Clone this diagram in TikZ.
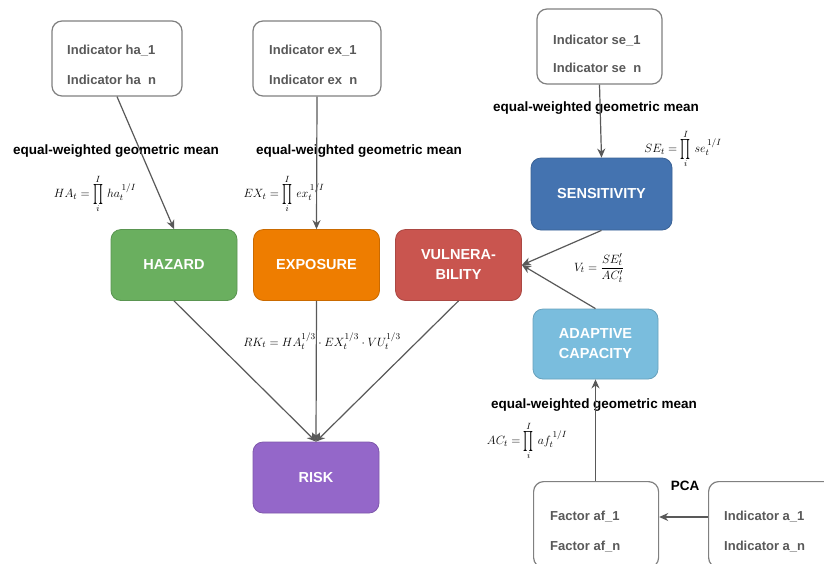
\documentclass[tikz,border=0pt]{standalone}
\usepackage{fontspec}
\setmainfont{Liberation Sans}
\usetikzlibrary{arrows.meta,calc}
\definecolor{linegray}{HTML}{595959}
\definecolor{boxgray}{HTML}{808080}
\definecolor{txtgray}{HTML}{595959}
\definecolor{hazfill}{HTML}{6AAF5F}
\definecolor{expfill}{HTML}{EE7D00}
\definecolor{vulfill}{HTML}{C9554F}
\definecolor{senfill}{HTML}{4473B0}
\definecolor{adafill}{HTML}{7ABDDD}
\definecolor{riskfill}{HTML}{9467C9}
% tall product sign with limits above and below
\newcommand{\gprod}[1]{\mathop{\vcenter{\hbox{\scalebox{1.05}[2.0]{$\prod$}}}}\limits_{i}^{I}\,#1}
\begin{document}
\begin{tikzpicture}[x=1pt,y=-1pt,
  inbox/.style={draw=boxgray,line width=1.2pt,rounded corners=10pt,fill=white},
  inner/.style={font=\fontsize{13}{15}\selectfont\bfseries,text=txtgray,anchor=west,inner sep=0pt},
  mainbox/.style={rounded corners=10pt,line width=0.8pt,minimum width=126pt,minimum height=71pt,
    text=white,font=\fontsize{14.5}{18}\selectfont\bfseries,align=center,inner sep=0pt},
  lab/.style={font=\fontsize{13.5}{15}\selectfont\bfseries,inner sep=0pt},
  frm/.style={font=\fontsize{13}{15}\selectfont,inner sep=0pt},
  arr/.style={draw=linegray,line width=1.2pt,-{Stealth[length=9pt,width=8pt]}}]
\clip (0,0) rectangle (824,563);
\fill[white] (0,0) rectangle (824,563);

% indicator boxes on top
\node[inbox,minimum width=130pt,minimum height=75pt] (ha) at (117,58.5) {};
\node[inner] (ha1) at (67,51) {Indicator ha\_1};
\node[inner] (han) at (67,81) {Indicator ha\phantom{\_}n};
\node[inbox,minimum width=128pt,minimum height=75pt] (ex) at (317,58.5) {};
\node[inner] (ex1) at (269,51) {Indicator ex\_1};
\node[inner] (exn) at (269,81) {Indicator ex\phantom{\_}n};
\node[inbox,minimum width=125pt,minimum height=75pt] (se) at (599.5,46.5) {};
\node[inner] (se1) at (553,41) {Indicator se\_1};
\node[inner] (sen1) at (553,69) {Indicator se\phantom{\_}n};

% component boxes
\node[mainbox,fill=hazfill,draw=hazfill!85!black] (haz) at (174,265) {HAZARD};
\node[mainbox,fill=expfill,draw=expfill!85!black] (exp) at (316.5,265) {EXPOSURE};
\node[mainbox,fill=vulfill,draw=vulfill!85!black] (vul) at (458.5,265) {VULNERA-\\[2pt]BILITY};
\node[mainbox,fill=senfill,draw=senfill!85!black,minimum width=141pt,minimum height=72pt] (sen) at (601.5,194) {SENSITIVITY};
\node[mainbox,fill=adafill,draw=adafill!85!black,minimum width=125pt,minimum height=70pt] (ada) at (595.5,344) {ADAPTIVE\\[2pt]CAPACITY};
\node[mainbox,fill=riskfill,draw=riskfill!85!black] (risk) at (316,477.5) {RISK};

% factor and indicator boxes at the bottom
\node[inbox,minimum width=125pt,minimum height=86pt,anchor=north west] (fac) at (533,481) {};
\node[inner] (fac1) at (550,517) {Factor af\_1};
\node[inner] (facn) at (550,547) {Factor af\_n};
\node[inbox,minimum width=140pt,minimum height=86pt,anchor=north west] (inda) at (708,481) {};
\node[inner] (inda1) at (724,517) {Indicator a\_1};
\node[inner] (indan) at (724,547) {Indicator a\_n};
\coordinate (pcain) at (inda.west |- inda1);
\coordinate (pcaout) at (fac.east |- inda1);

% aggregation labels
\node[lab] (l1) at (116,151) {equal-weighted geometric mean};
\node[lab] (l2) at (359,151) {equal-weighted geometric mean};
\node[lab] (l3) at (596,108) {equal-weighted geometric mean};
\node[lab] (l4) at (594,405) {equal-weighted geometric mean};
\node[lab] (pca) at (685,486) {PCA};

% formulas
\node[frm] (fha) at (95,194) {$HA_t=\gprod{ha_t^{\,1/I}}$};
\node[frm] (fex) at (284,194) {$EX_t=\gprod{ex_t^{\,1/I}}$};
\node[frm] (fse) at (683,149) {$SE_t=\gprod{se_t^{\,1/I}}$};
\node[frm] (fv) at (599,268) {$V_t=\displaystyle\frac{SE'_t}{AC'_t}$};
\node[frm] (frk) at (322,341) {$RK_t=HA_t^{1/3}\cdot EX_t^{1/3}\cdot VU_t^{1/3}$};
\node[frm] (fac0) at (527,441) {$AC_t=\gprod{af_t^{\,1/I}}$};

% connectors
\draw[arr] (ha.south) -- (haz.north);
\draw[arr] (ex.south) -- (exp.north);
\draw[arr] (se.south) -- (sen.north);
\draw[arr] (sen.south) -- (vul.east);
\draw[arr] (ada.north) -- (vul.east);
\draw[arr] (fac.north -| ada.south) -- (ada.south);
\draw[arr] (pcain) -- (pcaout);
\draw[arr] (haz.south) -- (risk.north);
\draw[arr] (exp.south) -- (risk.north);
\draw[arr] (vul.south) -- (risk.north);
\end{tikzpicture}
\end{document}
